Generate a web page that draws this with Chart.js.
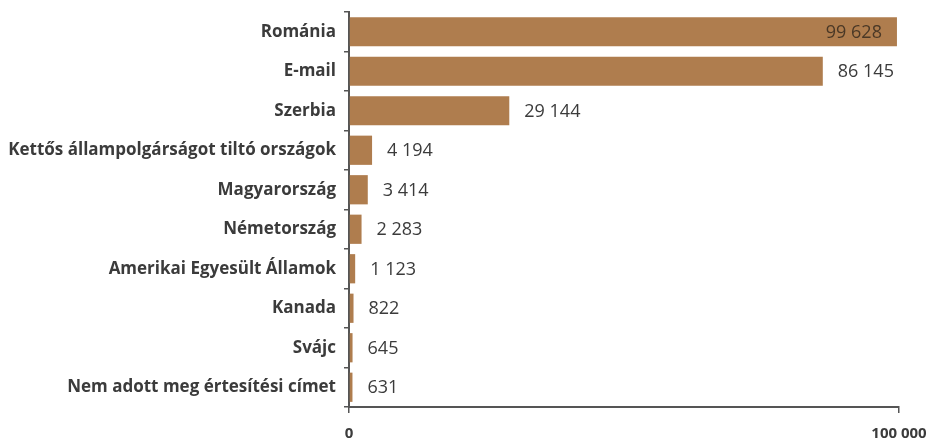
<!DOCTYPE html>
<html>
<head>
<meta charset="utf-8">
<script src="https://cdn.jsdelivr.net/npm/chart.js@4"></script>
<style>
  html, body { margin: 0; padding: 0; background: #fff; }
  #wrap { width: 935px; height: 445px; }
</style>
</head>
<body>
<div id="wrap"><canvas id="chart"></canvas></div>
<script>
const categories = [
  "Románia",
  "E-mail",
  "Szerbia",
  "Kettős állampolgárságot tiltó országok",
  "Magyarország",
  "Németország",
  "Amerikai Egyesült Államok",
  "Kanada",
  "Svájc",
  "Nem adott meg értesítési címet"
];
const votes = [99628, 86145, 29144, 4194, 3414, 2283, 1123, 822, 645, 631];
const xTicks = [0, 100000];

const barColor = "#af7d4e";
const axisColor = "#555555";
const textColor = "#3b3b3b";
const fontFamily = "'Open Sans', Lato, sans-serif";

// "99 628" style thousands separator
function fmt(v) {
  return String(v).replace(/\B(?=(\d{3})+(?!\d))/g, " ");
}

// value labels: outside the bar end, or inside when the bar reaches the edge
const valueLabels = {
  id: "valueLabels",
  afterDatasetsDraw(chart) {
    const c = chart.ctx;
    const meta = chart.getDatasetMeta(0);
    const area = chart.chartArea;
    c.save();
    c.font = "18px " + fontFamily;
    c.textBaseline = "middle";
    meta.data.forEach((bar, i) => {
      const text = fmt(votes[i]);
      const w = c.measureText(text).width;
      if (bar.x + 15 + w > area.right) {
        c.fillStyle = "#4a3826";
        c.textAlign = "right";
        c.fillText(text, bar.x - 15, bar.y + 1);
      } else {
        c.fillStyle = textColor;
        c.textAlign = "left";
        c.fillText(text, bar.x + 15, bar.y + 1);
      }
    });
    c.restore();
  }
};

new Chart(document.getElementById("chart"), {
  type: "bar",
  data: {
    labels: categories,
    datasets: [{
      data: votes,
      backgroundColor: barColor,
      borderWidth: 0,
      categoryPercentage: 1,
      barPercentage: 0.74
    }]
  },
  options: {
    indexAxis: "y",
    animation: false,
    responsive: true,
    maintainAspectRatio: false,
    layout: { padding: { top: 12, right: 36, left: 0, bottom: 0 } },
    plugins: {
      legend: { display: false },
      tooltip: { enabled: false }
    },
    scales: {
      x: {
        min: 0,
        max: 100000,
        afterBuildTicks: (s) => { s.ticks = xTicks.map(v => ({ value: v })); },
        afterFit: (s) => {
          s.height = 38;
          s.paddingLeft = 0;
          s.paddingRight = 0;
        },
        border: { display: true, color: axisColor, width: 2 },
        grid: { drawOnChartArea: false, drawTicks: true, tickLength: 6, color: axisColor, lineWidth: 1.5 },
        ticks: {
          color: textColor,
          padding: 12,
          maxRotation: 0,
          font: { family: fontFamily, size: 15, weight: "bold" },
          callback: (v) => fmt(v)
        }
      },
      y: {
        afterFit: (s) => {
          s.width = 349;
          s.paddingTop = 0;
          s.paddingBottom = 0;
        },
        border: { display: true, color: axisColor, width: 2 },
        grid: { drawOnChartArea: false, drawTicks: true, tickLength: 5, color: axisColor, lineWidth: 1.5, offset: true },
        ticks: {
          color: textColor,
          padding: 8,
          font: { family: fontFamily, size: 17, weight: "bold" }
        }
      }
    }
  },
  plugins: [valueLabels]
});
</script>
</body>
</html>
